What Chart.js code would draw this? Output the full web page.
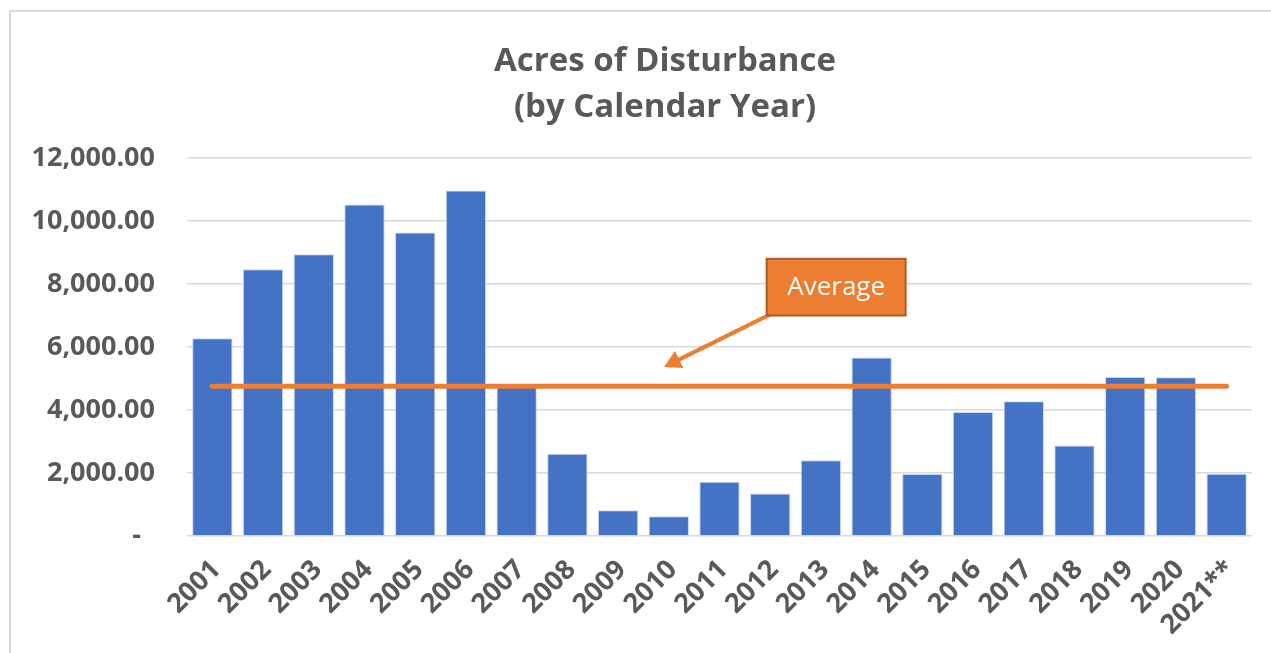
<!DOCTYPE html>
<html>
<head>
<meta charset="utf-8">
<title>Acres of Disturbance</title>
<script src="https://cdn.jsdelivr.net/npm/chart.js@4.4.1/dist/chart.umd.min.js"></script>
<style>
  html, body { margin: 0; padding: 0; background: #ffffff; overflow: hidden; }
  #wrap { position: relative; width: 1271px; height: 653px; }
  #frame {
    position: absolute; left: 9px; top: 10px; width: 1400px; height: 800px;
    border: 2px solid #d9d9d9; box-sizing: border-box; pointer-events: none;
  }
  canvas { position: absolute; left: 0; top: 0; }
</style>
</head>
<body>
<div id="wrap">
  <canvas id="chart" width="1271" height="653"></canvas>
  <div id="frame"></div>
</div>
<script>
// Calendar years and disturbed acreage per year
const years = ['2001', '2002', '2003', '2004', '2005', '2006', '2007', '2008', '2009', '2010',
               '2011', '2012', '2013', '2014', '2015', '2016', '2017', '2018', '2019', '2020', '2021**'];
const acres = [6280, 8467, 8943, 10520, 9632, 10965, 4750, 2615, 816, 625,
               1726, 1346, 2403, 5663, 1968, 3937, 4276, 2870, 5048, 5038, 1980];
const yTicks = [0, 2000, 4000, 6000, 8000, 10000, 12000];
const titleLines = ['Acres of Disturbance', '(by Calendar Year)'];

// Mean over all years, drawn as a flat reference line
const averageAcres = acres.reduce((s, v) => s + v, 0) / acres.length;
const averageLine = acres.map(() => averageAcres);

const TEXT = '#595959';
const BLUE = '#4472C4';
const ORANGE = '#ED7D31';

// Two-line heading, centred over the framed chart
const headingPlugin = {
  id: 'heading',
  afterDraw(chart) {
    const { ctx } = chart;
    ctx.save();
    ctx.fillStyle = TEXT;
    ctx.font = 'bold 33px "Open Sans"';
    ctx.textAlign = 'center';
    ctx.textBaseline = 'alphabetic';
    ctx.fillText(titleLines[0], 665, 71);
    ctx.fillText(titleLines[1], 665, 117);
    ctx.restore();
  }
};

// Callout box "Average" with an arrow pointing at the mean line
const calloutPlugin = {
  id: 'callout',
  afterDatasetsDraw(chart) {
    const { ctx, scales: { x, y } } = chart;
    const boxLeft = x.getPixelForValue(10.93);
    const boxRight = x.getPixelForValue(13.67);
    const boxTop = y.getPixelForValue(8800);
    const boxBottom = y.getPixelForValue(7000);

    const sx = x.getPixelForValue(11.03), sy = y.getPixelForValue(7060);
    const tx = x.getPixelForValue(8.905), ty = y.getPixelForValue(5365);

    ctx.save();
    // arrow shaft
    const ang = Math.atan2(ty - sy, tx - sx);
    const headLen = 17, headHalf = 9.5;
    const bx = tx - Math.cos(ang) * headLen, by = ty - Math.sin(ang) * headLen;
    ctx.strokeStyle = ORANGE;
    ctx.lineWidth = 4;
    ctx.beginPath();
    ctx.moveTo(sx, sy);
    ctx.lineTo(bx + Math.cos(ang) * 2, by + Math.sin(ang) * 2);
    ctx.stroke();
    // arrow head
    ctx.fillStyle = ORANGE;
    ctx.beginPath();
    ctx.moveTo(tx, ty);
    ctx.lineTo(bx + Math.sin(ang) * headHalf, by - Math.cos(ang) * headHalf);
    ctx.lineTo(bx - Math.sin(ang) * headHalf, by + Math.cos(ang) * headHalf);
    ctx.closePath();
    ctx.fill();

    // box
    ctx.fillStyle = ORANGE;
    ctx.fillRect(boxLeft, boxTop, boxRight - boxLeft, boxBottom - boxTop);
    ctx.strokeStyle = '#AE5A21';
    ctx.lineWidth = 2;
    ctx.strokeRect(boxLeft, boxTop, boxRight - boxLeft, boxBottom - boxTop);

    ctx.fillStyle = '#ffffff';
    ctx.font = '26px "Open Sans"';
    ctx.textAlign = 'center';
    ctx.textBaseline = 'middle';
    ctx.fillText('Average', (boxLeft + boxRight) / 2, (boxTop + boxBottom) / 2);
    ctx.restore();
  }
};

new Chart(document.getElementById('chart'), {
  type: 'bar',
  data: {
    labels: years,
    datasets: [
      {
        type: 'line',
        label: 'Average',
        data: averageLine,
        borderColor: ORANGE,
        borderWidth: 5,
        borderCapStyle: 'round',
        pointRadius: 0,
        fill: false,
        order: 0
      },
      {
        label: 'Acres',
        data: acres,
        backgroundColor: BLUE,
        borderColor: 'rgba(190, 208, 240, 0.9)',
        borderWidth: 1,
        categoryPercentage: 1.0,
        barPercentage: 0.795,
        order: 1
      }
    ]
  },
  options: {
    responsive: false,
    animation: false,
    layout: { padding: { left: 0, right: 19, top: 158, bottom: 0 } },
    plugins: {
      legend: { display: false },
      tooltip: { enabled: false },
      title: { display: false }
    },
    scales: {
      x: {
        grid: { display: false },
        border: { display: false },
        ticks: {
          color: TEXT,
          font: { family: '"Open Sans"', size: 27, weight: 'bold' },
          maxRotation: 45,
          minRotation: 45,
          padding: 10,
          labelOffset: 4
        },
        afterFit(scale) { scale.height = 117; }
      },
      y: {
        min: 0,
        max: 12000,
        border: { display: false },
        grid: { color: '#d9d9d9', lineWidth: 1.5, drawTicks: false },
        afterBuildTicks(scale) { scale.ticks = yTicks.map(v => ({ value: v })); },
        ticks: {
          color: TEXT,
          font: { family: '"Open Sans"', size: 27, weight: 'bold' },
          padding: 32,
          callback(v) {
            return v === 0 ? '-  ' : v.toLocaleString('en-US', { minimumFractionDigits: 2, maximumFractionDigits: 2 });
          }
        },
        afterFit(scale) { scale.width = 187; }
      }
    }
  },
  plugins: [calloutPlugin, headingPlugin]
});
</script>
</body>
</html>
